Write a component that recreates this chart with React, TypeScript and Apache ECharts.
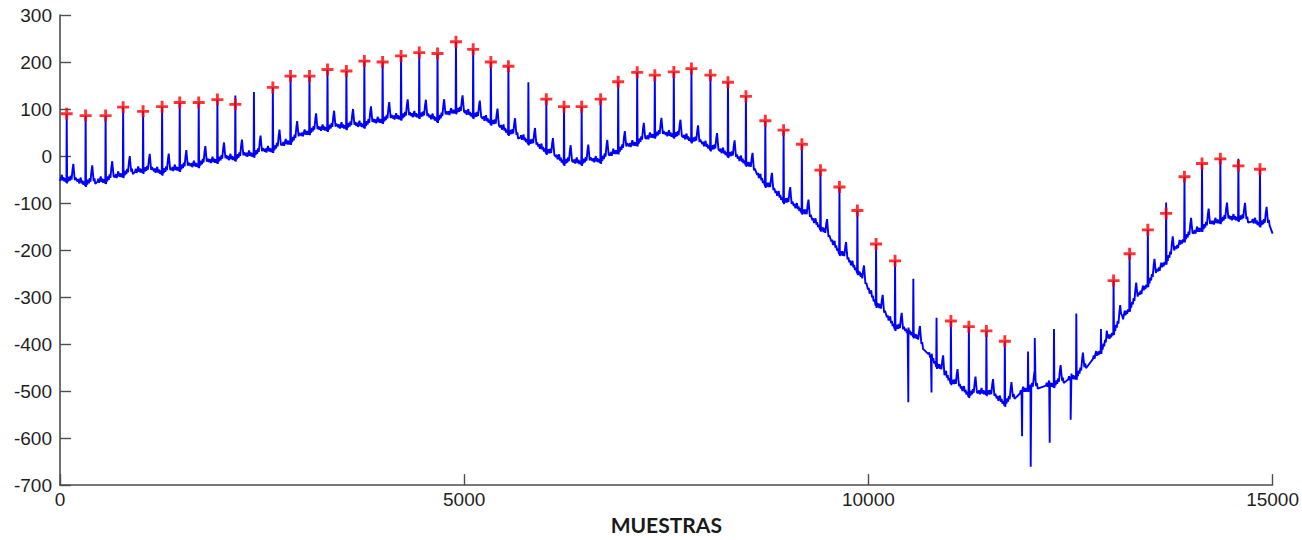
import React, { useEffect, useRef } from "react";
import * as echarts from "echarts";

// ---- Data (sample index, amplitude) ----
const xAxisMin = 0;
const xAxisMax = 15000;
const xTickStep = 5000;
const yAxisMin = -700;
const yAxisMax = 300;
const yTickStep = 100;

// R-peak positions of every visible beat (samples)
const beatX = [
  83, 317, 564, 781, 1028, 1263, 1481, 1716, 1947, 2169, 2399, 2633, 2852, 3086, 3309, 3543,
  3765, 3991, 4219, 4444, 4670, 4898, 5111, 5330, 5547, 5794, 6016, 6235, 6453, 6688, 6905,
  7140, 7358, 7593, 7811, 8046, 8263, 8485, 8725, 8951, 9177, 9407, 9642, 9864, 10095, 10330,
  10556, 10843, 11021, 11243, 11460, 11688, 11975, 12296, 12572, 12877, 13033, 13231, 13457,
  13683, 13910, 14127, 14354, 14577, 14844,
];
// spike top of every beat
const beatR = [
  90, 86, 86, 104, 95, 105, 114, 114, 120, 129, 136, 146, 170, 170, 184, 181, 202, 200, 213,
  220, 218, 243, 227, 200, 191, 157, 121, 105, 105, 121, 158, 178, 172, 179, 186, 172, 157, 127,
  75, 55, 25, -30, -66, -116, -187, -223, -261, -344, -351, -363, -372, -394, -416, -368, -335,
  -368, -265, -208, -157, -99, -44, -16, -6, -6, -28,
];
// lower edge of the baseline band at every beat
const beatBase = [
  -56, -64, -58, -45, -36, -40, -32, -24, -15, -10, -2, 8, 25, 46, 53, 57, 60, 70, 77, 81, 72,
  91, 81, 67, 45, 25, 5, -19, -19, -15, 5, 22, 39, 39, 29, 12, -2, -20, -65, -100, -122, -158,
  -210, -250, -320, -370, -385, -450, -485, -513, -508, -532, -500, -492, -475, -420, -380,
  -330, -278, -230, -182, -160, -143, -138, -150,
];
// artefact spikes in the noisy stretch
const artefactX = [10494, 10781, 11901, 12008, 12058, 12243, 12502];
const artefactY = [-524, -503, -596, -661, -387, -610, -561];
// signal ends
const edgeX = [0, 15000];
const edgeY = [-50, -165];

// detected R peaks (red markers)
const markerX = [
  83, 317, 564, 781, 1028, 1263, 1481, 1716, 1947, 2169, 2633, 2852, 3086, 3309, 3543, 3765,
  3991, 4219, 4444, 4670, 4898, 5111, 5330, 5547, 6016, 6235, 6453, 6688, 6905, 7140, 7358,
  7593, 7811, 8046, 8263, 8485, 8725, 8951, 9177, 9407, 9642, 9864, 10095, 10330, 11021, 11243,
  11460, 11688, 13033, 13231, 13457, 13683, 13910, 14127, 14354, 14577, 14844,
];
const markerY = [
  90, 86, 86, 104, 95, 105, 114, 114, 120, 110, 146, 170, 170, 184, 181, 202, 200, 213, 220,
  218, 243, 227, 200, 191, 121, 105, 105, 121, 158, 178, 172, 179, 186, 172, 157, 127, 75, 55,
  25, -30, -66, -116, -187, -223, -351, -363, -372, -394, -265, -208, -157, -122, -44, -16, -6,
  -21, -28,
];

// shape of one beat around its R peak: [offset in samples, level above band edge]
const beatShape: [number, number | null][] = [
  [-100, 6], [-90, 12], [-80, 3], [-70, 10], [-60, 16], [-50, 4], [-40, 11], [-30, 2],
  [-20, 9], [-10, 3], [-4, 0], [0, null], [5, -2], [12, 10], [20, 3], [30, 13], [40, 5],
  [50, 16], [60, 8], [72, 30], [82, 42], [92, 22], [100, 8], [110, 14], [120, 2],
];

function buildSignal(): [number, number][] {
  const pts: [number, number][] = [];
  const n = beatX.length;
  for (let i = 0; i < n; i++) {
    const lo = i > 0 ? (beatX[i - 1] + beatX[i]) / 2 : -Infinity;
    const hi = i < n - 1 ? (beatX[i] + beatX[i + 1]) / 2 : Infinity;
    for (const [off, dv] of beatShape) {
      const x = beatX[i] + off;
      if (x < lo || x >= hi || x <= xAxisMin || x >= xAxisMax) continue;
      if (dv === null) {
        pts.push([x, beatR[i]]);
        continue;
      }
      // band edge follows the wander between this beat and its neighbour
      let base = beatBase[i];
      if (off < 0 && i > 0) {
        const w = -off / (beatX[i] - beatX[i - 1]);
        base = beatBase[i] * (1 - w) + beatBase[i - 1] * w;
      } else if (off > 0 && i < n - 1) {
        const w = off / (beatX[i + 1] - beatX[i]);
        base = beatBase[i] * (1 - w) + beatBase[i + 1] * w;
      }
      pts.push([x, base + dv]);
    }
  }
  artefactX.forEach((x, i) => pts.push([x, artefactY[i]]));
  edgeX.forEach((x, i) => pts.push([x, edgeY[i]]));
  pts.sort((a, b) => a[0] - b[0]);
  return pts;
}

const PLUS = "path://M3.8,0H6.2V3.8H10V6.2H6.2V10H3.8V6.2H0V3.8H3.8Z";
const FONT = "'Liberation Sans', Arial, Helvetica, sans-serif";

export default function App() {
  const ref = useRef<HTMLDivElement>(null);
  useEffect(() => {
    if (!ref.current) return;
    const chart = echarts.init(ref.current, undefined, { renderer: "svg" });
    const axisCol = "#4d4d4d";
    chart.setOption({
      animation: false,
      backgroundColor: "#ffffff",
      grid: { left: 60, right: 27, top: 15, bottom: 43, containLabel: false },
      xAxis: {
        type: "value",
        min: xAxisMin,
        max: xAxisMax,
        interval: xTickStep,
        name: "MUESTRAS",
        nameLocation: "middle",
        nameGap: 19,
        nameTextStyle: { fontFamily: "Lato, 'Liberation Sans', sans-serif", fontWeight: "bold", fontSize: 21, color: "#1a1a1a" },
        axisLine: { show: true, onZero: false, lineStyle: { color: axisCol, width: 1.6 } },
        axisTick: { show: true, inside: true, length: 11, lineStyle: { color: axisCol, width: 1.4 } },
        axisLabel: {
          fontFamily: FONT,
          fontSize: 19,
          color: "#1f1f1f",
          margin: 5,
          formatter: (v: number) => String(v),
        },
        splitLine: { show: false },
      },
      yAxis: {
        type: "value",
        min: yAxisMin,
        max: yAxisMax,
        interval: yTickStep,
        axisLine: { show: true, onZero: false, lineStyle: { color: axisCol, width: 1.6 } },
        axisTick: { show: true, inside: true, length: 11, lineStyle: { color: axisCol, width: 1.4 } },
        axisLabel: {
          fontFamily: FONT,
          fontSize: 19,
          color: "#1f1f1f",
          margin: 8,
          formatter: (v: number) => String(v),
        },
        splitLine: { show: false },
      },
      series: [
        {
          type: "line",
          data: buildSignal(),
          showSymbol: false,
          symbol: "none",
          silent: true,
          lineStyle: { color: "#0000ff", width: 1.9 },
          z: 2,
        },
        {
          type: "scatter",
          data: markerX.map((x, i) => [x, markerY[i]]),
          symbol: PLUS,
          symbolSize: 12,
          silent: true,
          itemStyle: { color: "#ff0000" },
          z: 3,
        },
      ],
    });
    return () => chart.dispose();
  }, []);
  return (
    <div
      ref={ref}
      style={{ position: "absolute", left: 0, top: 0, width: 1302, height: 540, background: "#fff" }}
    />
  );
}
